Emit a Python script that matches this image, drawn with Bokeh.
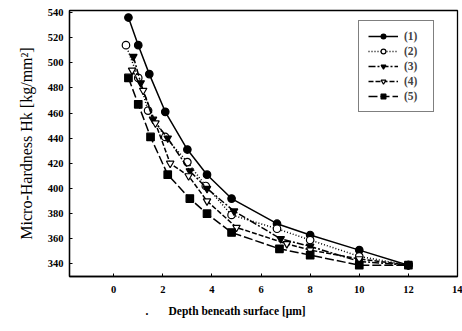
from bokeh.plotting import figure
from bokeh.models import Range1d, Legend, LegendItem, FixedTicker, AllLabels, Title
from bokeh.embed import file_html
from bokeh.resources import INLINE

# data
x1 = [0.6, 1.0, 1.45, 2.1, 3.0, 3.8, 4.8, 6.65, 8.0, 10.0, 12.0]
y1 = [536, 514, 491, 461, 431, 411, 392, 372, 363, 351, 339]
x2 = [0.5, 1.0, 1.4, 2.1, 3.0, 3.75, 4.8, 6.65, 8.0, 10.0, 12.0]
y2 = [514, 488, 462, 441, 421, 402, 379, 368, 359, 346, 339]
x3 = [0.8, 1.1, 1.6, 2.2, 3.1, 3.8, 4.9, 6.8, 8.0, 10.0, 12.0]
y3 = [505, 484, 455, 440, 414, 400, 382, 360, 354, 342, 339]
x4 = [0.75, 1.2, 1.7, 2.3, 3.05, 3.8, 5.0, 7.05, 8.0, 10.0, 12.0]
y4 = [494, 478, 452, 420, 410, 390, 369, 356, 351, 344, 339]
x5 = [0.6, 1.0, 1.5, 2.2, 3.1, 3.8, 4.8, 6.75, 8.0, 10.0, 12.0]
y5 = [488, 467, 441, 411, 392, 380, 365, 352, 347, 339, 339]
names = ["(1)", "(2)", "(3)", "(4)", "(5)"]
x_ticks = [0, 2, 4, 6, 8, 10, 12, 14]
y_ticks = [340, 360, 380, 400, 420, 440, 460, 480, 500, 520, 540]
x_title = ".\u00a0\u00a0\u00a0\u00a0\u00a0\u00a0 Depth beneath surface [μm]"
y_title = "Micro-Hardness Hk [kg/mm²]"

p = figure(width=462, height=331, output_backend="svg", toolbar_location=None,
           x_range=Range1d(-1.8, 14.0), y_range=Range1d(330, 541.6),
           min_border_left=69, min_border_right=5, min_border_top=10, min_border_bottom=55)
p.xgrid.visible = False
p.ygrid.visible = False
p.outline_line_color = "black"
p.outline_line_width = 1.3
p.background_fill_color = "white"
p.border_fill_color = "white"

for ax in (p.xaxis[0], p.yaxis[0]):
    ax.axis_line_color = "black"
    ax.axis_line_width = 1.3
    ax.major_tick_in = 3
    ax.major_tick_out = 0
    ax.minor_tick_line_color = None
    ax.major_label_text_font = "Liberation Serif"
    ax.major_label_text_font_style = "bold"
    ax.major_label_text_font_size = "10.5px"
    ax.major_label_text_color = "black"
    ax.major_label_policy = AllLabels()
p.xaxis.ticker = FixedTicker(ticks=x_ticks)
p.yaxis.ticker = FixedTicker(ticks=y_ticks)
p.xaxis.major_label_standoff = 9
p.yaxis.major_label_standoff = 6
p.yaxis.axis_label = y_title
p.yaxis.axis_label_text_font = "Liberation Serif"
p.yaxis.axis_label_text_font_style = "normal"
p.yaxis.axis_label_text_font_size = "16px"
p.yaxis.axis_label_text_color = "black"
p.yaxis.axis_label_standoff = 10

series = [
    (x1, y1, "circle", "black", "solid"),
    (x2, y2, "circle", "white", "1 2"),
    (x3, y3, "inverted_triangle", "black", "7 2 2 2"),
    (x4, y4, "inverted_triangle", "white", "5 2"),
    (x5, y5, "square", "black", "9 3"),
]
items = []
for (xs, ys, mk, fill, dash), nm in zip(series, names):
    r1 = p.line(xs, ys, line_color="black", line_width=1.5, line_dash=dash)
    r2 = p.scatter(xs, ys, marker=mk, size=7.5, fill_color=fill, line_color="black", line_width=1.2)
    items.append(LegendItem(label=nm, renderers=[r1, r2]))

legend = Legend(items=items, location=(289, 164), orientation="vertical",
                glyph_width=30, glyph_height=12, label_height=12, spacing=3, padding=9,
                label_text_font="Liberation Serif", label_text_font_style="bold",
                label_text_font_size="11.5px", border_line_color="black", border_line_width=1,
                background_fill_alpha=1, margin=0, label_standoff=6)
p.add_layout(legend, "center")

p.add_layout(Title(text=x_title, align="left", offset=76, standoff=14,
                   text_font="Liberation Serif", text_font_style="bold",
                   text_font_size="11.5px", text_color="black"), "below")

open("out.html", "w").write(file_html(p, INLINE))
